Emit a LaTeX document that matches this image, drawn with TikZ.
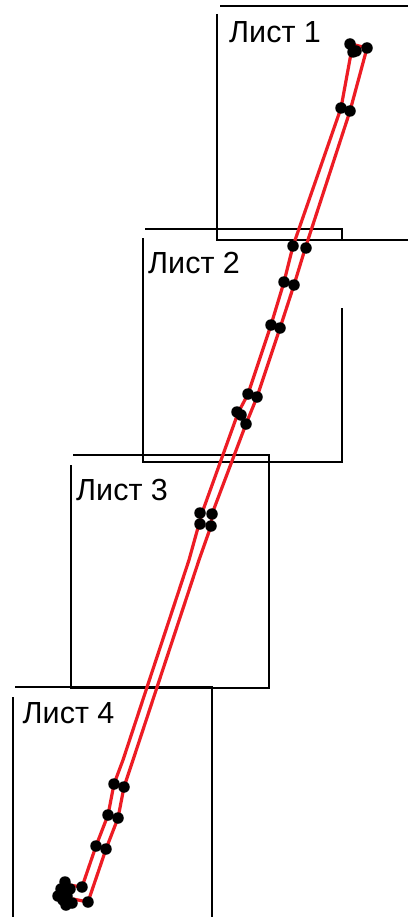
\documentclass[tikz,border=0pt]{standalone}
\usepackage{fontspec}
\setmainfont{Liberation Sans}
\definecolor{rline}{RGB}{237,28,36}
\tikzset{
  frame/.style={draw=black, line width=2pt},
  redline/.style={draw=rline, line width=3.2pt, line join=round, line cap=round},
  pin/.style={circle, fill=black, inner sep=0pt, minimum size=11.5pt},
  sheetlabel/.style={anchor=base west, inner sep=0pt, font=\fontsize{30.5}{36}\selectfont}
}
\begin{document}
\begin{tikzpicture}[x=1pt, y=-1pt]
\useasboundingbox (0,0) rectangle (408,917);
\fill[white] (0,0) rectangle (408,917);

% frames
\coordinate (b1a) at (220,6);   \coordinate (b1b) at (408,6);
\coordinate (b1c) at (217,14);  \coordinate (b1d) at (217,240);
\coordinate (b1e) at (408,240);
\draw[frame] (b1a) -- (b1b);
\draw[frame] (b1c) -- (b1d) -- (b1e);

\coordinate (b2a) at (145,229); \coordinate (b2b) at (342,229);
\coordinate (b2c) at (342,241); \coordinate (b2d) at (342,308);
\coordinate (b2e) at (342,462); \coordinate (b2f) at (143,462);
\coordinate (b2g) at (143,238);
\draw[frame] (b2a) -- (b2b) -- (b2c);
\draw[frame] (b2d) -- (b2e) -- (b2f) -- (b2g);

\coordinate (b3a) at (73,455);  \coordinate (b3b) at (269,455);
\coordinate (b3c) at (269,688); \coordinate (b3d) at (71,688);
\coordinate (b3e) at (71,465);
\draw[frame] (b3a) -- (b3b) -- (b3c) -- (b3d) -- (b3e);

\coordinate (b4a) at (15,687);  \coordinate (b4b) at (212,687);
\coordinate (b4c) at (212,917); \coordinate (b4d) at (13,697);
\coordinate (b4e) at (13,917);
\draw[frame] (b4a) -- (b4b) -- (b4c);
\draw[frame] (b4d) -- (b4e);

% labels
\node[sheetlabel] (t1) at (229,43) {Лист 1};
\node[sheetlabel] (t2) at (148,273) {Лист 2};
\node[sheetlabel] (t3) at (76,500) {Лист 3};
\node[sheetlabel] (t4) at (22.5,723) {Лист 4};

% red double line
\draw[redline] (69,885) -- (82,887) -- (96,846) -- (108,815) -- (114,784) -- (123,760)
  -- (189,560) -- (199,524) -- (202,513) -- (238,413) -- (248,394) -- (271,325)
  -- (284,282) -- (293,246) -- (341,108) -- (352,48) -- (355,45) -- (367,48)
  -- (350,111) -- (305,249) -- (294,285) -- (280,328) -- (257,397) -- (246,424)
  -- (212,514) -- (211,526) -- (199,560) -- (133,760) -- (124,787) -- (118,818)
  -- (106,849) -- (88,902) -- (73,899);

% pins
\foreach \p [count=\i] in {(350,44),(353,52),(356,51),(367,48),
  (341,108),(350,111),
  (293,246),(306,248),
  (284,282),(294,285),
  (271,325),(280,328),
  (248,394),(257,397),
  (237,412),(241,415),(246,424),
  (200,513),(212,514),(200,524),(211,526),
  (114,784),(124,787),
  (108,815),(118,818),
  (96,846),(106,849),
  (82,887),(88,902),
  (65,882),(61,889),(58,896),(67,896),(72,903),(66,905),(70,889),(63,900)}
  \node[pin] (d\i) at \p {};
\end{tikzpicture}
\end{document}
